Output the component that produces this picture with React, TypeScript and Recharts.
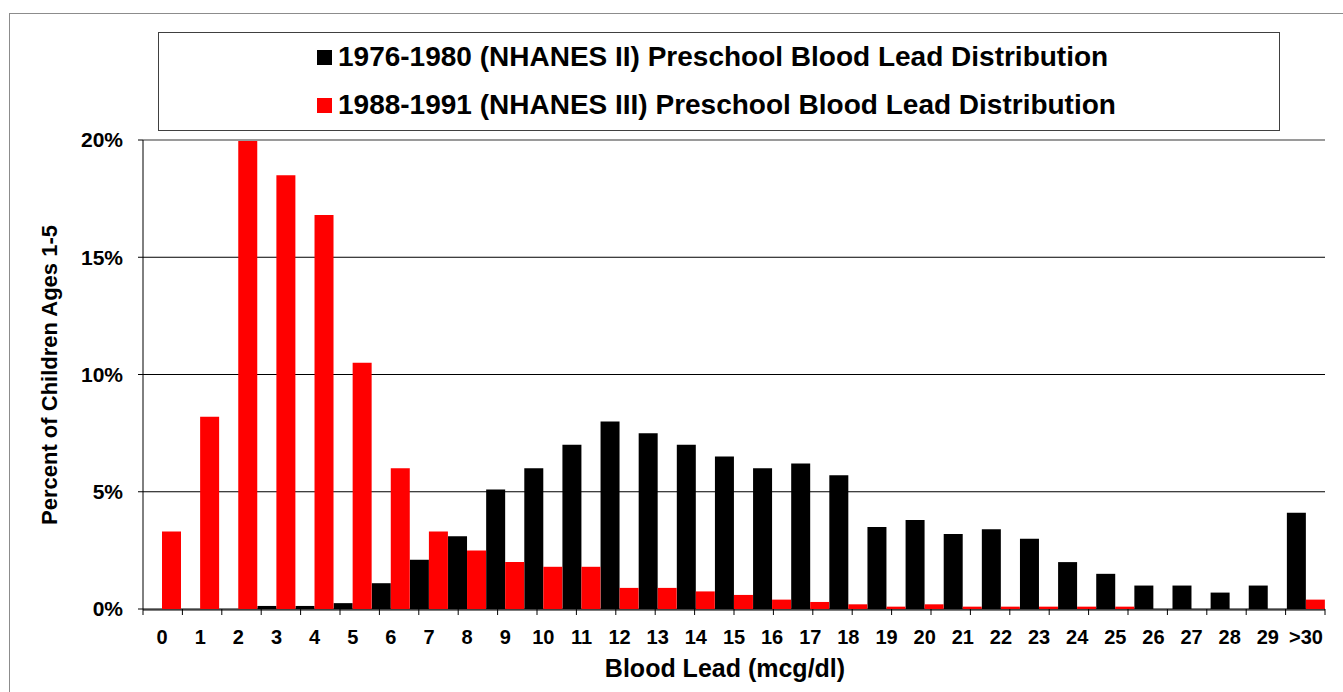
import { Bar, BarChart, CartesianGrid, Legend, ReferenceLine, XAxis, YAxis } from 'recharts'

const categories = ['0', '1', '2', '3', '4', '5', '6', '7', '8', '9', '10', '11', '12', '13', '14', '15', '16', '17', '18', '19', '20', '21', '22', '23', '24', '25', '26', '27', '28', '29', '>30']

const nhanes2 = [0, 0, 0, 0.13, 0.13, 0.25, 1.1, 2.1, 3.1, 5.1, 6.0, 7.0, 8.0, 7.5, 7.0, 6.5, 6.0, 6.2, 5.7, 3.5, 3.8, 3.2, 3.4, 3.0, 2.0, 1.5, 1.0, 1.0, 0.7, 1.0, 4.1]

const nhanes3 = [3.3, 8.2, 20, 18.5, 16.8, 10.5, 6.0, 3.3, 2.5, 2.0, 1.8, 1.8, 0.9, 0.9, 0.75, 0.6, 0.4, 0.3, 0.2, 0.1, 0.2, 0.1, 0.1, 0.1, 0.1, 0.1, 0, 0, 0, 0, 0.4]

const yTicks = [0, 5, 10, 15, 20]

// category boundaries, for the tick marks between the bar groups
const edgeTicks = [...categories.map((_, i) => i), categories.length]

const SERIES_II = '1976-1980 (NHANES II) Preschool Blood Lead Distribution'
const SERIES_III = '1988-1991 (NHANES III) Preschool Blood Lead Distribution'

const FONT = '"Liberation Sans", Arial, sans-serif'

const data = categories.map((name, i) => ({ name, [SERIES_II]: nhanes2[i], [SERIES_III]: nhanes3[i] }))

function LegendBox({ payload }: any) {
  return (
    <div
      style={{
        width: 1122,
        height: 99,
        border: '1px solid #404040',
        boxSizing: 'border-box',
        position: 'relative',
        background: '#fff',
      }}
    >
      {(payload ?? []).map((entry: any, i: number) => (
        <div
          key={i}
          style={{
            position: 'absolute',
            left: 158,
            top: 9 + i * 48,
            height: 30,
            display: 'flex',
            alignItems: 'center',
            font: `bold 28px ${FONT}`,
            color: '#000',
            whiteSpace: 'nowrap',
          }}
        >
          <span style={{ display: 'inline-block', width: 15, height: 15, background: entry.color, marginRight: 6 }} />
          {entry.value}
        </div>
      ))}
    </div>
  )
}

export default function App() {
  return (
    <div style={{ position: 'absolute', left: 0, top: 0, width: 1343, height: 692, overflow: 'hidden', background: '#fff' }}>
      <div style={{ position: 'absolute', left: 9, top: 13, width: 1400, height: 720, border: '1px solid #8c8c8c' }} />
      <BarChart
        width={1343}
        height={692}
        data={data}
        margin={{ top: 140, right: 18, bottom: 33, left: 0 }}
        barCategoryGap={0}
        barGap={0}
        style={{ position: 'absolute', left: 0, top: 0 }}
      >
        <CartesianGrid xAxisId="main" vertical={false} stroke="#000" strokeWidth={1} />
        <XAxis
          xAxisId="edges"
          type="number"
          domain={[0, categories.length]}
          allowDataOverflow
          ticks={edgeTicks}
          interval={0}
          height={1}
          axisLine={false}
          tickLine={{ stroke: '#000' }}
          tickSize={6}
          tickFormatter={() => ''}
        />
        <XAxis
          xAxisId="main"
          dataKey="name"
          height={49}
          interval={0}
          tickLine={false}
          tickSize={0}
          tickMargin={20}
          axisLine={{ stroke: '#000' }}
          tick={{ fill: '#000', fontSize: 20, fontWeight: 'bold', fontFamily: FONT }}
          label={{
            content: () => (
              <text x={725} y={677} textAnchor="middle" fill="#000" fontSize={25} fontWeight="bold" fontFamily={FONT}>
                Blood Lead (mcg/dl)
              </text>
            ),
          }}
        />
        <YAxis
          width={143}
          domain={[0, 20]}
          ticks={yTicks}
          interval={0}
          tickFormatter={(v: number) => `${v}%`}
          tickSize={5}
          tickMargin={15}
          axisLine={{ stroke: '#000' }}
          tickLine={{ stroke: '#000' }}
          tick={{ fill: '#000', fontSize: 21, fontWeight: 'bold', fontFamily: FONT }}
          label={{
            content: () => (
              <text
                x={57}
                y={375}
                transform="rotate(-90 57 375)"
                textAnchor="middle"
                fill="#000"
                fontSize={22}
                fontWeight="bold"
                fontFamily={FONT}
              >
                Percent of Children Ages 1-5
              </text>
            ),
          }}
        />
        <Legend
          layout="vertical"
          align="center"
          verticalAlign="middle"
          content={<LegendBox />}
          wrapperStyle={{ top: 32, left: 158, width: 1122, height: 99 }}
        />
        <Bar xAxisId="main" dataKey={SERIES_II} name={SERIES_II} fill="#000000" isAnimationActive={false} />
        <Bar xAxisId="main" dataKey={SERIES_III} name={SERIES_III} fill="#ff0000" isAnimationActive={false} />
        <ReferenceLine xAxisId="main" y={20} stroke="#9a9a9a" strokeWidth={2} />
        <ReferenceLine x={categories.length} xAxisId="edges" stroke="#9a9a9a" strokeWidth={2} />
      </BarChart>
    </div>
  )
}
